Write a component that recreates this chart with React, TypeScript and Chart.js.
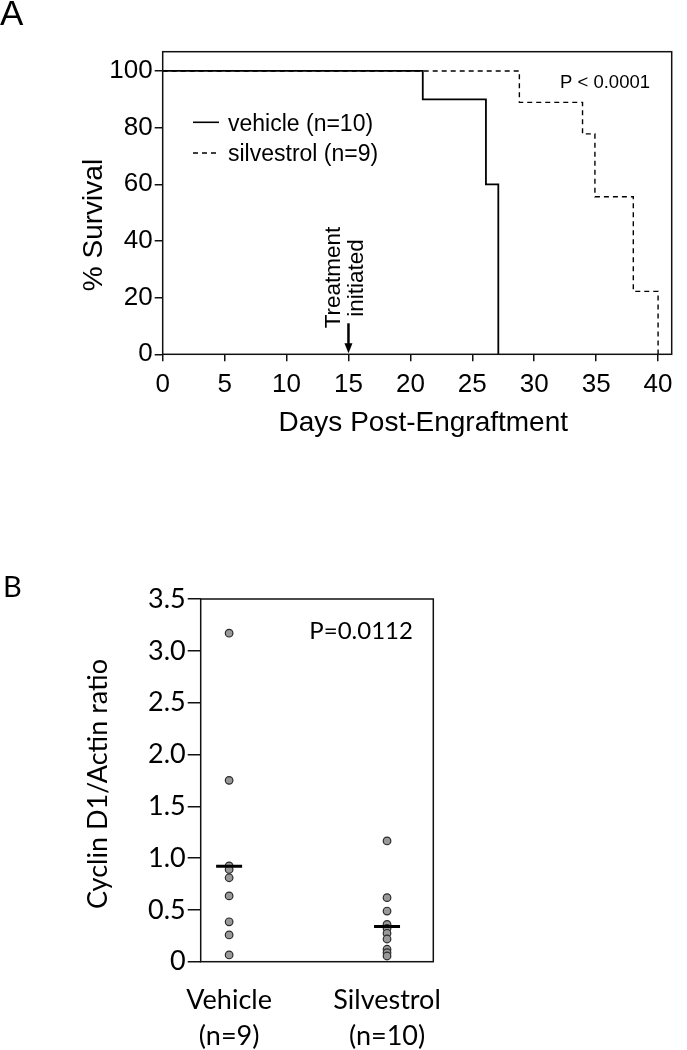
import React, { useEffect, useRef } from 'react';
import { Chart, registerables } from 'chart.js';

Chart.register(...registerables);

const FONT_A = '"Liberation Sans", Arial, sans-serif';
const FONT_B = 'Lato, "Open Sans", sans-serif';

// ---------- Panel A: Kaplan-Meier survival ----------
const X_TICKS_A = [0, 5, 10, 15, 20, 25, 30, 35, 40];
const Y_TICKS_A = [0, 20, 40, 60, 80, 100];
const VEHICLE_DAYS = [0, 21.0, 26.1, 27.1];
const VEHICLE_SURVIVAL = [100, 90, 60, 0];
const SILVESTROL_DAYS = [0, 28.8, 33.9, 34.9, 38.0, 40.0];
const SILVESTROL_SURVIVAL = [100, 88.9, 77.8, 55.6, 22.2, 0];
const TREATMENT_DAY = 15;
const LEGEND_A = ['vehicle (n=10)', 'silvestrol (n=9)'];
const P_TEXT_A = 'P < 0.0001';
const X_TITLE_A = 'Days Post-Engraftment';
const Y_TITLE_A = '% Survival';
const TREATMENT_LINES = ['Treatment', 'initiated'];

// ---------- Panel B: Cyclin D1 / Actin ratio ----------
const GROUPS_B = ['Vehicle', 'Silvestrol'];
const GROUP_N_B = ['(n=9)', '(n=10)'];
const VEHICLE_RATIO = [3.17, 1.75, 0.925, 0.89, 0.81, 0.635, 0.385, 0.258, 0.065];
const SILVESTROL_RATIO = [1.165, 0.618, 0.489, 0.36, 0.322, 0.274, 0.219, 0.12, 0.087, 0.055];
const MEAN_B = [0.92, 0.34];
const Y_TICKS_B = [0, 0.5, 1, 1.5, 2, 2.5, 3, 3.5];
const Y_TICK_LABELS_B = ['0', '0.5', '1.0', '1.5', '2.0', '2.5', '3.0', '3.5'];
const P_TEXT_B = 'P=0.0112';
const Y_TITLE_B = 'Cyclin D1/Actin ratio';

const W = 687;
const HA = 460;
const HB = 490;
const TOP_B = 560;

function PanelA() {
  const ref = useRef<HTMLCanvasElement>(null);
  useEffect(() => {
    const annot = {
      id: 'annotA',
      afterDraw(chart: any) {
        const { ctx, chartArea: a, scales } = chart;
        const xs = scales.x;
        ctx.save();
        ctx.strokeStyle = '#111';
        ctx.lineWidth = 1.5;
        ctx.setLineDash([]);
        ctx.strokeRect(a.left, a.top, a.right - a.left, a.bottom - a.top);
        ctx.fillStyle = '#000';
        ctx.textBaseline = 'alphabetic';
        // panel letter
        ctx.font = `35px ${FONT_A}`;
        ctx.textAlign = 'left';
        ctx.fillText('A', 0, 25);
        // axis titles
        ctx.font = `28px ${FONT_A}`;
        ctx.save();
        ctx.translate(101.5, 225);
        ctx.rotate(-Math.PI / 2);
        ctx.textAlign = 'center';
        ctx.fillText(Y_TITLE_A, 0, 0);
        ctx.restore();
        ctx.textAlign = 'center';
        ctx.fillText(X_TITLE_A, 423.3, 431);
        // legend
        ctx.strokeStyle = '#000';
        ctx.lineWidth = 1.6;
        ctx.beginPath();
        ctx.moveTo(193, 122.3);
        ctx.lineTo(219, 122.3);
        ctx.stroke();
        ctx.lineWidth = 1.3;
        ctx.setLineDash([5, 4]);
        ctx.beginPath();
        ctx.moveTo(193, 153);
        ctx.lineTo(219, 153);
        ctx.stroke();
        ctx.setLineDash([]);
        ctx.font = `23px ${FONT_A}`;
        ctx.textAlign = 'left';
        ctx.fillText(LEGEND_A[0], 228, 130.7);
        ctx.fillText(LEGEND_A[1], 228, 160.7);
        // p value
        ctx.font = `18.5px ${FONT_A}`;
        ctx.textAlign = 'right';
        ctx.fillText(P_TEXT_A, 650, 88.3);
        // treatment annotation
        const ax = xs.getPixelForValue(TREATMENT_DAY);
        ctx.font = `22.5px ${FONT_A}`;
        ctx.textAlign = 'center';
        ctx.save();
        ctx.translate(ax - 8, 277.5);
        ctx.rotate(-Math.PI / 2);
        ctx.fillText(TREATMENT_LINES[0], 0, 0);
        ctx.restore();
        ctx.save();
        ctx.translate(ax + 14.6, 278);
        ctx.rotate(-Math.PI / 2);
        ctx.fillText(TREATMENT_LINES[1], 0, 0);
        ctx.restore();
        // arrow
        ctx.lineWidth = 2.5;
        ctx.beginPath();
        ctx.moveTo(ax, a.bottom - 31);
        ctx.lineTo(ax, a.bottom - 10);
        ctx.stroke();
        ctx.beginPath();
        ctx.moveTo(ax - 4, a.bottom - 11);
        ctx.lineTo(ax + 4, a.bottom - 11);
        ctx.lineTo(ax, a.bottom - 1);
        ctx.closePath();
        ctx.fill();
        ctx.restore();
      },
    };

    const chart = new Chart(ref.current as HTMLCanvasElement, {
      type: 'line',
      data: {
        datasets: [
          {
            label: LEGEND_A[1],
            data: SILVESTROL_DAYS.map((d, i) => ({ x: d, y: SILVESTROL_SURVIVAL[i] })),
            stepped: 'before',
            borderColor: '#000',
            borderWidth: 1.4,
            borderDash: [5, 4],
            pointRadius: 0,
            fill: false,
          },
          {
            label: LEGEND_A[0],
            data: VEHICLE_DAYS.map((d, i) => ({ x: d, y: VEHICLE_SURVIVAL[i] })),
            stepped: 'before',
            borderColor: '#000',
            borderWidth: 1.8,
            pointRadius: 0,
            fill: false,
          },
        ],
      },
      options: {
        responsive: false,
        animation: false,
        events: [],
        layout: { padding: { left: 0, top: 51.7, right: 15.3, bottom: HA - 354.3 - 80 } },
        plugins: { legend: { display: false }, tooltip: { enabled: false } },
        scales: {
          x: {
            type: 'linear',
            min: 0,
            max: 41.1,
            afterBuildTicks: (s: any) => {
              s.ticks = X_TICKS_A.map((value) => ({ value }));
            },
            afterFit: (s: any) => {
              s.height = 80;
              s.paddingLeft = 0;
              s.paddingRight = 0;
            },
            border: { display: false },
            grid: { drawOnChartArea: false, drawTicks: true, tickLength: 7, color: '#111', lineWidth: 1.5 },
            ticks: { color: '#000', font: { family: FONT_A, size: 26 }, padding: 8, maxRotation: 0, autoSkip: false },
          },
          y: {
            type: 'linear',
            min: 0,
            max: 106.8,
            afterBuildTicks: (s: any) => {
              s.ticks = Y_TICKS_A.map((value) => ({ value }));
            },
            afterFit: (s: any) => {
              s.width = 162.7;
              s.paddingTop = 0;
              s.paddingBottom = 0;
            },
            border: { display: false },
            grid: { drawOnChartArea: false, drawTicks: true, tickLength: 8, color: '#111', lineWidth: 1.5 },
            ticks: { color: '#000', font: { family: FONT_A, size: 26 }, padding: 2 },
          },
        },
      },
      plugins: [annot],
    } as any);
    return () => chart.destroy();
  }, []);
  return <canvas ref={ref} width={W} height={HA} style={{ position: 'absolute', left: 0, top: 0 }} />;
}

function PanelB() {
  const ref = useRef<HTMLCanvasElement>(null);
  useEffect(() => {
    const annot = {
      id: 'annotB',
      afterDraw(chart: any) {
        const { ctx, chartArea: a } = chart;
        ctx.save();
        ctx.strokeStyle = '#111';
        ctx.lineWidth = 1.5;
        ctx.strokeRect(a.left, a.top, a.right - a.left, a.bottom - a.top);
        ctx.fillStyle = '#000';
        ctx.textBaseline = 'alphabetic';
        ctx.font = `29px ${FONT_B}`;
        ctx.textAlign = 'left';
        ctx.fillText('B', 3, 37);
        ctx.font = `24px ${FONT_B}`;
        ctx.fillText(P_TEXT_B, 309.3, 79);
        ctx.font = `27px ${FONT_B}`;
        ctx.save();
        ctx.translate(98, 224);
        ctx.rotate(-Math.PI / 2);
        ctx.textAlign = 'center';
        ctx.textBaseline = 'middle';
        ctx.fillText(Y_TITLE_B, 0, 0);
        ctx.restore();
        ctx.restore();
      },
    };
    const dot = {
      pointRadius: 3.8,
      pointBackgroundColor: '#999999',
      pointBorderColor: '#2a2a2a',
      pointBorderWidth: 1.2,
      showLine: false,
      order: 1,
    };
    const chart = new Chart(ref.current as HTMLCanvasElement, {
      type: 'scatter',
      data: {
        datasets: [
          {
            label: 'mean',
            data: MEAN_B.map((m, i) => ({ x: i + 1, y: m })),
            pointStyle: 'line',
            pointRadius: 13,
            pointBorderWidth: 3,
            pointBorderColor: '#000',
            borderColor: '#000',
            showLine: false,
            order: 0,
          },
          { label: GROUPS_B[0], data: VEHICLE_RATIO.map((y) => ({ x: 1, y })), ...dot },
          { label: GROUPS_B[1], data: SILVESTROL_RATIO.map((y) => ({ x: 2, y })), ...dot },
        ],
      },
      options: {
        responsive: false,
        animation: false,
        events: [],
        layout: { padding: { left: 0, top: 39, right: W - 433.3, bottom: 0 } },
        plugins: { legend: { display: false }, tooltip: { enabled: false } },
        scales: {
          x: {
            type: 'linear',
            min: 0.82,
            max: 2.293,
            afterBuildTicks: (s: any) => {
              s.ticks = GROUPS_B.map((_, i) => ({ value: i + 1 }));
            },
            afterFit: (s: any) => {
              s.height = HB - 401.7;
              s.paddingLeft = 0;
              s.paddingRight = 0;
            },
            border: { display: false },
            grid: { display: false, drawTicks: false },
            ticks: {
              color: '#000',
              font: { family: FONT_B, size: 27, lineHeight: 1.33 },
              padding: 21,
              maxRotation: 0,
              autoSkip: false,
              callback: (_v: any, i: number) => [GROUPS_B[i], GROUP_N_B[i]],
            },
          },
          y: {
            type: 'linear',
            min: 0,
            max: 3.5,
            afterBuildTicks: (s: any) => {
              s.ticks = Y_TICKS_B.map((value) => ({ value }));
            },
            afterFit: (s: any) => {
              s.width = 200.7;
              s.paddingTop = 0;
              s.paddingBottom = 0;
            },
            border: { display: false },
            grid: { drawOnChartArea: false, drawTicks: true, tickLength: 13, color: '#111', lineWidth: 1.5 },
            ticks: {
              color: '#000',
              font: { family: FONT_B, size: 27 },
              padding: 2,
              callback: (_v: any, i: number) => Y_TICK_LABELS_B[i],
            },
          },
        },
      },
      plugins: [annot],
    } as any);
    return () => chart.destroy();
  }, []);
  return <canvas ref={ref} width={W} height={HB} style={{ position: 'absolute', left: 0, top: TOP_B }} />;
}

export default function App() {
  return (
    <div style={{ position: 'absolute', left: 0, top: 0, width: W, height: 1050, background: '#fff' }}>
      <PanelA />
      <PanelB />
    </div>
  );
}
